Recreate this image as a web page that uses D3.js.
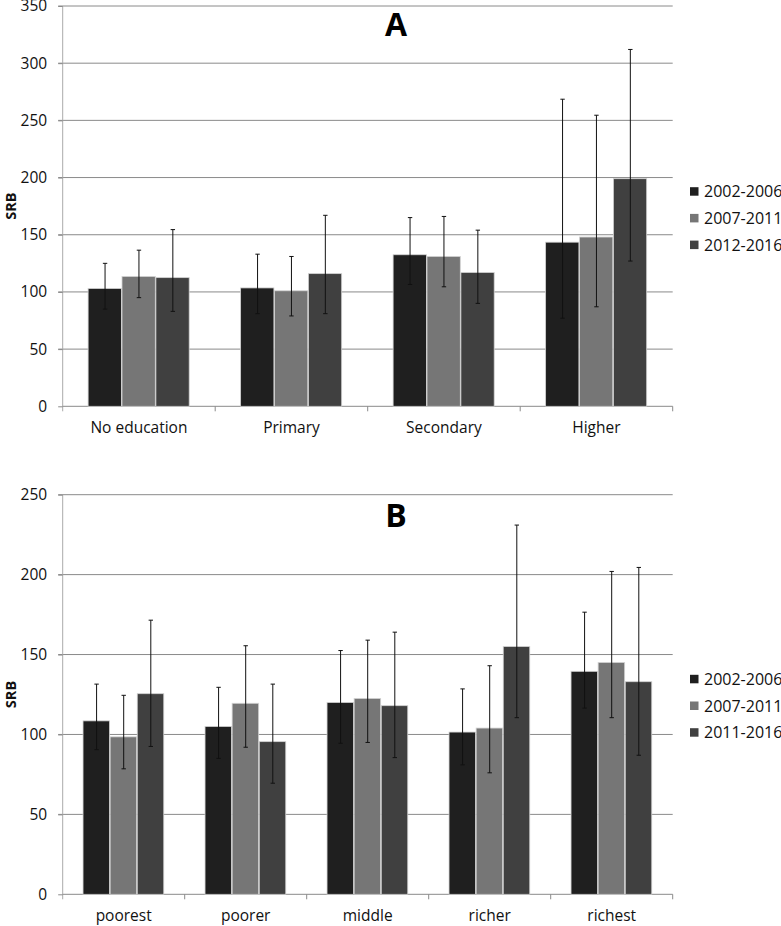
<!DOCTYPE html>
<html><head><meta charset="utf-8">
<script src="https://cdn.jsdelivr.net/npm/d3@7"></script>
<style>body{margin:0;background:#fff}svg{display:block}text{font-family:"Open Sans",sans-serif}</style>
</head><body>
<svg id="c" width="781" height="926"></svg>
<script>
// Panel A: by education
const catsA = ["No education","Primary","Secondary","Higher"];
const seriesA = ["2002-2006","2007-2011","2012-2016"];
const valsA = [[103,103.5,132.5,143.5],[113.5,101,131,148],[112.5,116,117,199]];
const lowA  = [[85,81,106.5,77],[95,79,104.5,87],[83,81,90,127]];
const highA = [[125,133,165,268.5],[136.5,131,166,254.5],[154.5,167,154,312]];
const ticksA = [0,50,100,150,200,250,300,350];

// Panel B: by wealth
const catsB = ["poorest","poorer","middle","richer","richest"];
const seriesB = ["2002-2006","2007-2011","2011-2016"];
const valsB = [[108.5,105,120,101.5,139.5],[98.5,119.5,122.5,104,145],[125.5,95.5,118,155,133]];
const lowB  = [[90.5,85,94.5,81,116.5],[78.5,92,95,76,110.5],[92.5,69.5,85.5,110.5,87]];
const highB = [[131.5,129.5,152.5,128.5,176.5],[124.5,155.5,159,143,202],[171.5,131.5,164,231,204.5]];
const ticksB = [0,50,100,150,200,250];

const colors = ["#1f1f1f","#767676","#404040"];
const svg = d3.select("#c");

function panel(opt){
  const {cats, series, vals, low, high, ticks, top, bottom, title, titleY, legendY} = opt;
  const left = 62.7, right = 672.7;
  const y = d3.scaleLinear().domain([0, ticks[ticks.length-1]]).range([bottom, top]);
  const x = d3.scaleBand().domain(cats).range([left, right]).paddingInner(0).paddingOuter(0);
  const bw = x.bandwidth()/4.5;
  const xs = d3.scaleBand().domain(series).range([0, bw*3]);
  const g = svg.append("g");
  // gridlines
  g.append("g").selectAll("line").data(ticks.slice(1)).join("line")
    .attr("x1", left-4.5).attr("x2", right).attr("y1", d=>y(d)).attr("y2", d=>y(d))
    .attr("stroke", "#8a8a8a").attr("stroke-width", 1);
  // y axis
  const ya = g.append("g").attr("transform", `translate(${left},0)`)
    .call(d3.axisLeft(y).tickValues(ticks).tickSize(4.5).tickPadding(11));
  ya.select(".domain").attr("stroke", "#aaa").attr("d", `M0,${top}V${bottom+5}`);
  ya.selectAll(".tick line").attr("stroke", "#8a8a8a");
  ya.selectAll(".tick text").attr("font-size", 15.5).attr("fill", "#111");
  // x axis
  const xa = g.append("g").attr("transform", `translate(0,${bottom})`);
  xa.append("line").attr("x1", left).attr("x2", right).attr("y1", 0).attr("y2", 0).attr("stroke", "#8a8a8a");
  xa.selectAll("line.t").data(cats.slice(1).concat(["__end"])).join("line").attr("class","t")
    .attr("x1", (d,i)=>left + x.bandwidth()*(i+1)).attr("x2", (d,i)=>left + x.bandwidth()*(i+1))
    .attr("y1", 0).attr("y2", 5).attr("stroke", "#8a8a8a");
  xa.selectAll("text").data(cats).join("text")
    .attr("x", d=>x(d)+x.bandwidth()/2).attr("y", 27)
    .attr("text-anchor", "middle").attr("font-size", 15.5).attr("fill", "#111").text(d=>d);
  // bars
  series.forEach((s, si) => {
    const gg = g.append("g");
    gg.selectAll("rect").data(cats).join("rect")
      .attr("x", d=>x(d)+0.75*bw+xs(s)).attr("width", bw-0.6)
      .attr("y", (d,i)=>y(vals[si][i])).attr("height", (d,i)=>bottom - y(vals[si][i]))
      .attr("fill", colors[si]).attr("stroke", "#d2d2d2").attr("stroke-width", 0.8);
    cats.forEach((c, ci) => {
      const cx = x(c)+0.75*bw+xs(s)+bw/2;
      gg.append("line").attr("x1", cx).attr("x2", cx).attr("y1", y(high[si][ci])).attr("y2", y(low[si][ci]))
        .attr("stroke", "#111").attr("stroke-width", 1);
      [high[si][ci], low[si][ci]].forEach(v => {
        gg.append("line").attr("x1", cx-2.2).attr("x2", cx+2.2).attr("y1", y(v)).attr("y2", y(v))
          .attr("stroke", "#111").attr("stroke-width", 1);
      });
    });
  });
  // title letter
  g.append("text").attr("x", 396).attr("y", titleY).attr("text-anchor", "middle")
    .attr("font-size", 32).attr("font-weight", "bold").attr("fill", "#000").text(title);
  // y label
  g.append("text").attr("transform", `translate(11,${(top+bottom)/2}) rotate(-90)`)
    .attr("text-anchor", "middle").attr("dy", "0.35em").attr("font-size", 14.5).attr("font-weight", "bold")
    .attr("fill", "#111").text("SRB");
  // legend
  series.forEach((s, si) => {
    const ly = legendY + si*26.7;
    g.append("rect").attr("x", 690).attr("y", ly-4.5).attr("width", 8.5).attr("height", 8.5).attr("fill", colors[si]);
    g.append("text").attr("x", 704).attr("y", ly).attr("dy", "0.35em").attr("font-size", 16).attr("fill", "#111").text(s);
  });
}

panel({cats:catsA, series:seriesA, vals:valsA, low:lowA, high:highA, ticks:ticksA, top:6, bottom:406.3, title:"A", titleY:36, legendY:191.7});
panel({cats:catsB, series:seriesB, vals:valsB, low:lowB, high:highB, ticks:ticksB, top:494.7, bottom:894.3, title:"B", titleY:526.5, legendY:679.3});
</script>
</body></html>
